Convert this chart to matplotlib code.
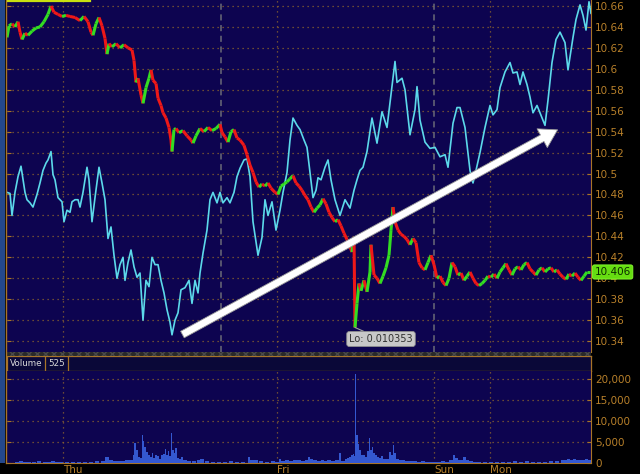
import matplotlib
matplotlib.use("Agg")
import matplotlib.pyplot as plt
import matplotlib.transforms as mtransforms
from matplotlib.collections import LineCollection
from matplotlib.lines import Line2D
from matplotlib.patches import Rectangle

# bar index along time axis (0 = left edge of the pane)
price_idx = [0, 2, 5, 8, 11, 13, 15, 18, 21, 25, 29, 33, 37, 41, 44, 47, 51, 55, 59, 63,
             68, 73, 77, 81, 84, 86, 89, 92, 95, 98, 100, 102, 105, 109, 113, 117, 121, 125, 127, 129,
             131, 134, 136, 139, 142, 144, 146, 149, 151, 154, 156, 159, 162, 164, 165, 167, 169, 172, 176, 180,
             184, 186, 189, 193, 197, 201, 205, 209, 213, 215, 218, 221, 224, 227, 230, 233, 237, 240, 243, 246,
             249, 252, 255, 258, 261, 264, 268, 271, 274, 277, 280, 283, 286, 289, 292, 295, 298, 301, 304, 307,
             310, 313, 316, 319, 322, 325, 328, 331, 334, 337, 340, 343, 345, 347, 348, 350, 352, 354, 357, 360,
             363, 364, 367, 370, 373, 376, 379, 382, 384, 386, 388, 391, 394, 397, 400, 403, 406, 409, 412, 415,
             418, 421, 424, 427, 430, 433, 436, 439, 442, 445, 448, 451, 454, 457, 460, 463, 466, 469, 472, 475,
             478, 481, 484, 487, 490, 493, 496, 499, 502, 505, 508, 511, 514, 517, 520, 523, 526, 529, 532, 535,
             538, 541, 544, 547, 550, 553, 556, 559, 562, 565, 568, 571, 574, 577, 580, 583]
price = [10.630, 10.641, 10.643, 10.640, 10.645, 10.635, 10.628, 10.634, 10.632, 10.636, 10.639, 10.640,
         10.645, 10.652, 10.660, 10.654, 10.652, 10.650, 10.651, 10.650, 10.649, 10.646, 10.650, 10.645,
         10.635, 10.632, 10.643, 10.649, 10.641, 10.629, 10.614, 10.624, 10.621, 10.624, 10.620, 10.623,
         10.620, 10.618, 10.608, 10.587, 10.591, 10.575, 10.567, 10.582, 10.591, 10.599, 10.589, 10.586,
         10.572, 10.565, 10.558, 10.553, 10.544, 10.532, 10.521, 10.542, 10.543, 10.539, 10.541, 10.536,
         10.532, 10.529, 10.536, 10.543, 10.540, 10.544, 10.541, 10.543, 10.547, 10.539, 10.535, 10.530,
         10.540, 10.542, 10.534, 10.532, 10.527, 10.518, 10.508, 10.501, 10.492, 10.487, 10.490, 10.488,
         10.491, 10.486, 10.482, 10.480, 10.488, 10.490, 10.492, 10.495, 10.498, 10.491, 10.488, 10.484,
         10.479, 10.475, 10.468, 10.463, 10.467, 10.470, 10.476, 10.471, 10.463, 10.458, 10.454, 10.456,
         10.450, 10.443, 10.437, 10.430, 10.425, 10.438, 10.353, 10.376, 10.395, 10.388, 10.398, 10.387,
         10.406, 10.432, 10.403, 10.400, 10.395, 10.402, 10.410, 10.422, 10.446, 10.468, 10.454, 10.446,
         10.442, 10.440, 10.437, 10.432, 10.438, 10.434, 10.415, 10.410, 10.408, 10.415, 10.422, 10.413,
         10.400, 10.402, 10.396, 10.393, 10.400, 10.415, 10.411, 10.403, 10.405, 10.398, 10.402, 10.406,
         10.400, 10.395, 10.393, 10.395, 10.398, 10.402, 10.401, 10.404, 10.400, 10.406, 10.410, 10.414,
         10.408, 10.403, 10.409, 10.411, 10.408, 10.413, 10.415, 10.409, 10.406, 10.403, 10.408, 10.410,
         10.406, 10.409, 10.410, 10.406, 10.408, 10.404, 10.401, 10.399, 10.404, 10.402, 10.405, 10.401,
         10.398, 10.402, 10.406, 10.406]

osc_idx = [0, 3, 5, 8, 11, 14, 18, 20, 23, 26, 30, 33, 36, 39, 41, 44, 46, 48, 51, 55,
           57, 60, 63, 65, 68, 71, 73, 76, 80, 82, 85, 88, 92, 95, 98, 101, 104, 107, 110, 113,
           116, 118, 121, 124, 127, 130, 133, 136, 139, 142, 145, 148, 151, 154, 157, 160, 163, 165, 168, 171,
           174, 178, 182, 185, 188, 191, 193, 196, 200, 203, 206, 210, 213, 216, 220, 223, 227, 230, 233, 237,
           240, 243, 246, 251, 255, 258, 261, 265, 269, 273, 276, 280, 283, 286, 290, 293, 297, 300, 303, 306,
           309, 311, 314, 318, 321, 324, 328, 333, 338, 343, 347, 350, 353, 356, 360, 365, 370, 375, 380, 385,
           388, 390, 395, 398, 403, 408, 410, 413, 418, 423, 428, 433, 438, 441, 446, 450, 453, 458, 463, 466,
           469, 473, 478, 483, 486, 490, 493, 498, 503, 506, 510, 513, 516, 520, 523, 526, 530, 533, 538, 541,
           545, 549, 553, 558, 561, 566, 569, 573, 576, 579, 582, 584]
osc = [10.482, 10.481, 10.460, 10.482, 10.497, 10.507, 10.482, 10.475, 10.472, 10.468, 10.480, 10.491,
       10.503, 10.510, 10.513, 10.521, 10.499, 10.494, 10.477, 10.473, 10.454, 10.465, 10.463, 10.473,
       10.475, 10.475, 10.468, 10.482, 10.506, 10.494, 10.454, 10.477, 10.506, 10.491, 10.475, 10.438,
       10.449, 10.422, 10.400, 10.413, 10.420, 10.398, 10.415, 10.427, 10.411, 10.401, 10.405, 10.360,
       10.398, 10.392, 10.420, 10.413, 10.413, 10.398, 10.386, 10.370, 10.358, 10.346, 10.360, 10.367,
       10.389, 10.391, 10.398, 10.376, 10.398, 10.386, 10.405, 10.424, 10.446, 10.475, 10.482, 10.472,
       10.482, 10.472, 10.477, 10.472, 10.482, 10.497, 10.505, 10.513, 10.514, 10.497, 10.454, 10.422,
       10.439, 10.475, 10.460, 10.473, 10.446, 10.465, 10.482, 10.501, 10.532, 10.553, 10.546, 10.542,
       10.532, 10.525, 10.501, 10.477, 10.484, 10.496, 10.494, 10.506, 10.513, 10.494, 10.475, 10.460,
       10.475, 10.467, 10.484, 10.494, 10.503, 10.506, 10.521, 10.553, 10.529, 10.559, 10.544, 10.583,
       10.607, 10.587, 10.591, 10.580, 10.537, 10.561, 10.583, 10.551, 10.530, 10.524, 10.525, 10.516,
       10.518, 10.506, 10.548, 10.563, 10.563, 10.544, 10.503, 10.491, 10.503, 10.520, 10.544, 10.565,
       10.556, 10.561, 10.582, 10.597, 10.606, 10.596, 10.597, 10.585, 10.597, 10.585, 10.573, 10.558,
       10.565, 10.558, 10.546, 10.570, 10.606, 10.628, 10.635, 10.625, 10.599, 10.630, 10.647, 10.661,
       10.651, 10.637, 10.664, 10.653]

vol_idx = [8, 12, 16, 20, 25, 30, 36, 40, 44, 48, 52, 58, 64, 70, 76, 82, 88, 94, 98, 102,
           106, 110, 114, 118, 122, 126, 127, 129, 131, 133, 135, 136, 137, 139, 141, 143, 145, 146, 148, 150,
           152, 154, 156, 158, 159, 161, 162, 164, 165, 167, 168, 170, 172, 174, 176, 180, 185, 190, 193, 198,
           204, 210, 216, 222, 228, 234, 241, 243, 247, 252, 258, 264, 268, 272, 274, 278, 282, 286, 290, 294,
           298, 301, 303, 306, 310, 314, 317, 320, 324, 328, 332, 334, 338, 340, 342, 344, 346, 347, 348, 349,
           350, 351, 352, 354, 356, 358, 360, 362, 363, 365, 366, 368, 370, 372, 374, 376, 378, 380, 382, 384,
           386, 387, 389, 392, 395, 398, 402, 406, 410, 414, 418, 422, 426, 430, 434, 438, 442, 446, 448, 451,
           454, 456, 459, 462, 466, 470, 476, 482, 488, 494, 500, 506, 512, 518, 524, 530, 536, 542, 548, 554,
           558, 560, 563, 566, 569, 572, 575, 578, 581, 584]
vol = [300, 400, 250, 350, 300, 400, 300, 350, 450, 300, 250, 200, 300, 250, 350, 300, 400, 500, 1400, 600,
       400, 500, 400, 600, 800, 1800, 4700, 3000, 1500, 1200, 6600, 5200, 3800, 2600, 1800, 1500, 2400, 1200, 2000, 1600,
       1000, 1800, 2200, 3400, 2000, 2800, 1600, 7100, 3000, 2400, 3600, 1200, 900, 1400, 600, 400, 500, 600, 1000, 400,
       300, 350, 300, 400, 300, 350, 1400, 800, 600, 400, 300, 500, 300, 900, 400, 600, 500, 800, 600, 500,
       700, 1400, 900, 600, 500, 800, 400, 600, 500, 700, 2300, 500, 900, 1200, 1500, 1800, 2200, 1600, 21200, 6600,
       6700, 4500, 3000, 1800, 2000, 1500, 2800, 6000, 3200, 3800, 2400, 2000, 1400, 1200, 1600, 1000, 900, 1000, 2600, 1800,
       4300, 2400, 1000, 700, 600, 500, 400, 500, 300, 400, 300, 200, 300, 200, 400, 300, 600, 2000, 1200, 800,
       600, 1400, 700, 500, 300, 200, 250, 200, 300, 250, 300, 400, 350, 400, 300, 250, 300, 400, 500, 600,
       800, 1000, 700, 900, 800, 700, 800, 900, 700, 800]

day_idx = [56, 270, 427, 483]
day_names = ["Thu", "Fri", "Sun", "Mon"]
session_breaks = [214, 427]
price_ticks = [10.34, 10.36, 10.38, 10.40, 10.42, 10.44, 10.46, 10.48, 10.50,
               10.52, 10.54, 10.56, 10.58, 10.60, 10.62, 10.64, 10.66]
vol_ticks = [0, 5000, 10000, 15000, 20000]
last_price = 10.406
low_idx, low_price = 348, 10.353
low_text = "Lo: 0.010353"
arrow_from = (173, 10.345)
arrow_to = (553, 10.543)
vol_last = "525"

W, H = 640, 474
NAVY = "#0d0450"
GRID = "#8a6230"
AXIS = "#a87428"
LABEL = "#b8802a"


def frac(x0, y0, x1, y1):
    # pixel box (top-left origin) -> figure fraction rect
    return [x0 / W, 1 - y1 / H, (x1 - x0) / W, (y1 - y0) / H]


def main() -> None:
    fig = plt.figure(figsize=(W / 100, H / 100), dpi=100)
    fig.patch.set_facecolor("black")

    # left border stripe
    fig.add_artist(Rectangle((0, 11 / H), 5 / W, 1 - 11 / H, transform=fig.transFigure,
                             facecolor="#24488c", edgecolor="none"))
    fig.add_artist(Line2D([5.5 / W, 5.5 / W], [11 / H, 1], transform=fig.transFigure,
                          color=AXIS, lw=1))

    # ---- price pane
    ax = fig.add_axes(frac(7, 0, 591, 352))
    ax.set_facecolor(NAVY)
    ax.set_xlim(0, 584)
    ax.set_ylim(10.3296, 10.6657)
    for s in ax.spines.values():
        s.set_visible(False)
    ax.spines["right"].set_visible(True)
    ax.spines["right"].set_color(AXIS)
    ax.set_xticks([])
    ax.yaxis.tick_right()
    ax.set_yticks(price_ticks)
    ax.set_yticklabels([f"{v:g}" for v in price_ticks])
    ax.tick_params(axis="y", which="both", direction="in", length=3, color=AXIS,
                   labelcolor=LABEL, labelsize=7.5, pad=3, left=True)
    ax.grid(axis="y", color=GRID, linestyle=(0, (1, 3)), lw=0.9)
    for i in (day_idx[0], day_idx[1], day_idx[3]):
        ax.axvline(i, color=GRID, linestyle=(0, (1, 3)), lw=0.9)
    for i in session_breaks:
        ax.axvline(i, color="#6a6a78", linestyle=(0, (4, 3)), lw=1.1)

    ax.plot(osc_idx, osc, color="#5cd9ea", lw=1.2, zorder=3)

    segs = []
    cols = []
    for k in range(1, len(price)):
        segs.append([(price_idx[k - 1], price[k - 1]), (price_idx[k], price[k])])
        cols.append("#33dd22" if price[k] >= price[k - 1] else "#ee1818")
    ax.add_collection(LineCollection(segs, colors=cols, linewidths=2.2, zorder=4))

    ax.annotate("", xy=arrow_to, xytext=arrow_from,
                arrowprops=dict(arrowstyle="simple,head_length=0.9,head_width=1.1,tail_width=0.38",
                                mutation_scale=14, fc="white", ec="#9a9a9a", lw=0.6),
                zorder=6)

    ax.annotate(low_text, xy=(low_idx, low_price), xytext=(low_idx + 26, 10.342),
                ha="center", va="center", fontsize=7, color="#303030",
                bbox=dict(boxstyle="round,pad=0.25", fc="#c8c8c8", ec="#909090", lw=0.6),
                arrowprops=dict(arrowstyle="-", color="#a0a0a0", lw=0.8,
                                shrinkA=0, shrinkB=0), zorder=7)

    tr = mtransforms.blended_transform_factory(ax.transAxes, ax.transData)
    ax.text(1.006, last_price, f"{last_price:.3f}", transform=tr, ha="left", va="center",
            fontsize=7.5, color="#0a2a00",
            bbox=dict(boxstyle="round,pad=0.2", fc="#66dd11", ec="#88ff33", lw=0.6),
            zorder=8, clip_on=False)

    # top-left highlight bar
    fig.add_artist(Line2D([8 / W, 90 / W], [1 - 0.8 / H] * 2, transform=fig.transFigure,
                          color="#c8e010", lw=1.6))

    # separator stripe between panes
    fig.add_artist(Rectangle((7 / W, 1 - 356 / H), 584 / W, 4 / H, transform=fig.transFigure,
                             facecolor="#2a2a2a", edgecolor="#4a4a4a", hatch="xxxx", lw=0))

    # ---- volume header bar
    hd = fig.add_axes(frac(7, 356, 591, 371))
    hd.set_facecolor("#0a0838")
    hd.set_xticks([])
    hd.set_yticks([])
    for s in hd.spines.values():
        s.set_color(AXIS)
        s.set_linewidth(0.9)
    hd.set_xlim(0, 584)
    hd.set_ylim(0, 1)
    hd.axvline(38, color=AXIS, lw=0.9)
    hd.axvline(61, color=AXIS, lw=0.9)
    hd.text(19.5, 0.48, "Volume", ha="center", va="center", fontsize=6.3, color="#d8d8d8")
    hd.text(49.5, 0.48, vol_last, ha="center", va="center", fontsize=6.3, color="#d8d8d8")

    # ---- volume pane
    av = fig.add_axes(frac(7, 371, 591, 463))
    av.set_facecolor(NAVY)
    av.set_xlim(0, 584)
    av.set_ylim(0, 21905)
    widths = [min(vol_idx[k + 1] - vol_idx[k], 4) for k in range(len(vol_idx) - 1)] + [2]
    av.bar(vol_idx, vol, width=widths, align="edge", color="#3458d0", edgecolor="none", zorder=3)
    for s in av.spines.values():
        s.set_visible(False)
    av.spines["right"].set_visible(True)
    av.spines["right"].set_color(AXIS)
    av.spines["bottom"].set_visible(True)
    av.spines["bottom"].set_color(AXIS)
    av.yaxis.tick_right()
    av.set_yticks(vol_ticks)
    av.set_yticklabels([f"{v:,}" for v in vol_ticks])
    av.tick_params(axis="y", direction="in", length=3, color=AXIS, labelcolor=LABEL,
                   labelsize=7.5, pad=3, left=True)
    av.grid(axis="y", color=GRID, linestyle=(0, (1, 3)), lw=0.9)
    for i in day_idx:
        av.axvline(i, color=GRID, linestyle=(0, (1, 3)), lw=0.9)
    av.set_xticks(day_idx)
    av.set_xticklabels(day_names, ha="left")
    av.tick_params(axis="x", length=0, labelcolor=LABEL, labelsize=7.5, pad=1.5)

    fig.savefig("out.png", dpi=100, facecolor=fig.get_facecolor())


if __name__ == "__main__":
    main()
